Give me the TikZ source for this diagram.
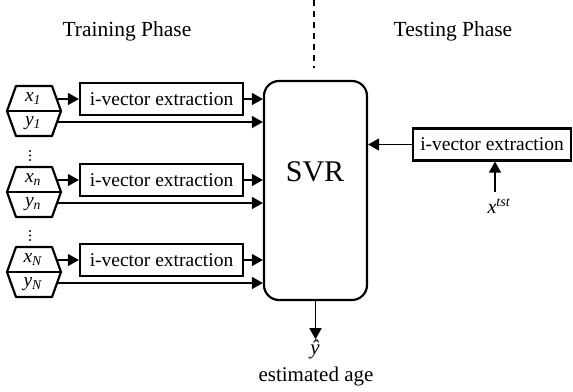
\documentclass[tikz,border=0pt]{standalone}
\usepackage{fontspec}
\setmainfont{Liberation Serif}
\usetikzlibrary{arrows.meta}

\newcommand\isub[2]{\textit{#1}\textsubscript{\textit{#2}}}

\begin{document}
\begin{tikzpicture}[x=1pt,y=-1pt,
  extbox/.style={draw,line width=2.2pt,minimum width=163pt,minimum height=32pt,
    inner sep=0pt,font=\fontsize{19.5}{20}\selectfont},
  arr/.style={line width=1.5pt,-{Triangle[length=11pt,width=12pt]}},
  hexline/.style={line width=2.2pt,line join=round},
  lbl/.style={font=\fontsize{19.5}{20}\selectfont,inner sep=0pt},
  title/.style={font=\fontsize{21.5}{22}\selectfont,inner sep=0pt},
  big/.style={font=\fontsize{21}{22}\selectfont,inner sep=0pt},
  dot/.style={radius=1.2pt}]

\useasboundingbox (0,0) rectangle (573,391);

% phase titles and separator
\node[title] (train) at (127,31) {Training Phase};
\node[title] (test) at (453,31) {Testing Phase};
\coordinate (sepTop) at (314,0);
\coordinate (sepBot) at (314,68);
\draw[line width=1.6pt,dash pattern=on 6pt off 5pt] (sepTop) -- (sepBot);

% regression block
\node[draw,line width=2.2pt,rounded corners=15pt,minimum width=103pt,minimum height=219pt,
  inner sep=0pt] (svr) at (315.5,190.5) {};
\node[inner sep=0pt,font=\fontsize{30}{30}\selectfont] (svrlbl) at (315,172) {SVR};

% training inputs
\foreach \i/\cy/\s in {1/111/1, 2/192/n, 3/272/N} {
  \draw[hexline] (7,\cy) -- (16,\cy-25) -- (52,\cy-25) -- (61,\cy)
    -- (52,\cy+25) -- (16,\cy+25) -- cycle;
  \draw[hexline] (7,\cy) -- (61,\cy);
  \node[lbl] (x\i) at (33,\cy-12.5) {\isub{x}{\s}};
  \node[lbl] (y\i) at (33,\cy+12.5) {\isub{y}{\s}};
  \coordinate (xo\i) at (57,\cy-12);
  \coordinate (yo\i) at (58,\cy+11);
  \node[extbox] (iv\i) at (161.5,\cy-12) {i-vector extraction};
  \draw[arr] (xo\i) -- (iv\i.west);
  \draw[arr] (iv\i.east) -- (iv\i.east -| svr.west);
  \draw[arr] (yo\i) -- (yo\i -| svr.west);
}

% vertical ellipses between samples
\foreach \y in {151,155.5,160,231,235.5,240}
  \fill (30,\y) circle[dot];

% testing branch
\node[extbox,minimum width=158pt] (ivt) at (492,144.5) {i-vector extraction};
\draw[arr] (ivt.west) -- (ivt.west -| svr.east);
\node[lbl,font=\fontsize{20}{20}\selectfont] (xt) at (499,206) {\textit{x}\textsuperscript{\textit{tst}}};
\coordinate (xtIn) at (495,192);
\draw[arr] (xtIn) -- (xtIn |- ivt.south);

% output
\node[big] (yhat) at (315,349) {\textit{ŷ}};
\node[big] (age) at (316,376) {estimated age};
\draw[arr] (svr.south) -- (svr.south |- yhat.north);

\end{tikzpicture}
\end{document}
